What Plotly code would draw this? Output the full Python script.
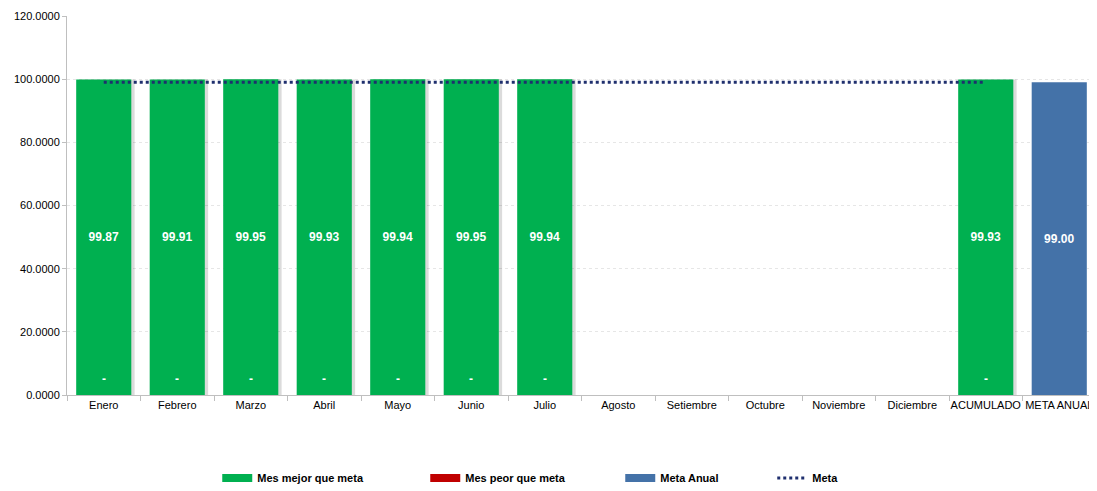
import plotly.graph_objects as go

categories = ["Enero", "Febrero", "Marzo", "Abril", "Mayo", "Junio", "Julio", "Agosto",
              "Setiembre", "Octubre", "Noviembre", "Diciembre", "ACUMULADO", "META ANUAL"]
mejor = [99.87, 99.91, 99.95, 99.93, 99.94, 99.95, 99.94, None, None, None, None, None, 99.93, None]
peor = [0, 0, 0, 0, 0, 0, 0, None, None, None, None, None, 0, None]
meta_anual = [None] * 13 + [99.00]
meta = [99.0] * 13 + [None]

FONT = "Liberation Sans, Arial, sans-serif"
GREEN = "#00B050"
RED = "#C00000"
BLUE = "#4472A8"
NAVY = "#1F2F6E"

# page has an 8px body margin; figure sized to fit the 1097x491 window
W, H = 1089, 483
L, R = 58.75, 1087.75
T, B = 8, 387

fig = go.Figure()

# soft bar shadow
fig.add_trace(go.Bar(
    x=categories, y=mejor, marker=dict(color="rgba(0,0,0,0.14)", line=dict(width=0)),
    width=0.75, offset=-0.375 + 0.045, showlegend=False, hoverinfo="skip",
))

fig.add_trace(go.Bar(
    x=categories, y=mejor, marker=dict(color=GREEN, line=dict(width=0)),
    text=[f"{v:.2f}" if v is not None else "" for v in mejor],
    textposition="inside", insidetextanchor="middle",
    textfont=dict(color="white", size=12, family=FONT, weight="bold"),
    showlegend=False, name="Mes mejor que meta", width=0.75, offset=-0.375,
))
fig.add_trace(go.Bar(
    x=categories, y=meta_anual, marker=dict(color=BLUE, line=dict(width=0)),
    text=[f"{v:.2f}" if v is not None else "" for v in meta_anual],
    textposition="inside", insidetextanchor="middle",
    textfont=dict(color="white", size=12, family=FONT, weight="bold"),
    showlegend=False, name="Meta Anual", width=0.75, offset=-0.375,
))
fig.add_trace(go.Scatter(
    x=categories, y=meta, mode="lines",
    line=dict(color=NAVY, width=3, dash="dot"),
    showlegend=False, name="Meta",
))

# zero-valued "peor" series labels ("-")
for c, v in zip(categories, peor):
    if v is not None:
        fig.add_annotation(x=c, y=v, text="-", showarrow=False, yanchor="middle",
                           yshift=16, font=dict(color="white", size=12, family=FONT, weight="bold"))

# legend entries
leg_items = [
    ("Mes mejor que meta", dict(color=GREEN, width=8), "legend", 219),
    ("Mes peor que meta", dict(color=RED, width=8), "legend2", 427),
    ("Meta Anual", dict(color=BLUE, width=8), "legend3", 622),
    ("Meta", dict(color=NAVY, width=3, dash="dot"), "legend4", 774),
]
legends = {}
for name, ln, lg, px in leg_items:
    fig.add_trace(go.Scatter(x=[None], y=[None], mode="lines", line=ln, name=name,
                             legend=lg, showlegend=True))
    legends[lg] = dict(
        x=(px - 8 - 2 - L) / (R - L), xanchor="left",
        y=-(478 - 8 - B) / (B - T), yanchor="middle",
        orientation="h", bgcolor="rgba(0,0,0,0)",
        font=dict(family=FONT, size=11, color="#000000", weight="bold"),
    )

fig.update_layout(
    width=W, height=H,
    margin=dict(l=L, r=W - R, t=T, b=H - B, autoexpand=False),
    paper_bgcolor="white", plot_bgcolor="white",
    barmode="overlay", showlegend=True,
    font=dict(family=FONT, size=11, color="#000000"),
    **legends,
)
fig.update_yaxes(
    range=[0, 120], dtick=20, tickformat=".4f", automargin=False,
    showgrid=True, gridcolor="#E6E6E6", griddash="dot", gridwidth=1,
    showline=True, linecolor="#BFBFBF", linewidth=1,
    ticks="outside", ticklen=4, tickcolor="#BFBFBF",
    tickfont=dict(family=FONT, size=11, color="#000000"),
    zeroline=False,
)
fig.update_xaxes(
    automargin=False, tickangle=0,
    showline=True, linecolor="#BFBFBF", linewidth=1,
    ticks="outside", tickson="boundaries", ticklen=5, tickcolor="#BFBFBF",
    tickfont=dict(family=FONT, size=11, color="#000000"),
    showgrid=False,
)

fig.write_html("out.html")
